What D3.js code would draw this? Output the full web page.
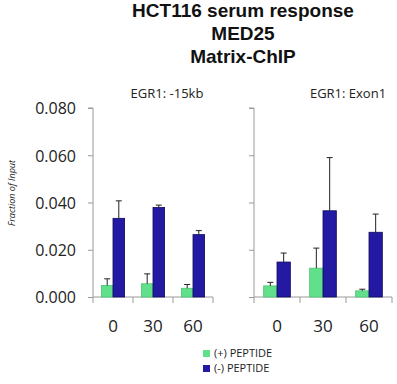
<!DOCTYPE html>
<head>
  <meta charset="utf-8">
  <script src="https://d3js.org/d3.v7.min.js"></script>
  <style>
    body { margin: 0; background: #fff; }
    svg { display: block; }
    .title { font-family: "Liberation Sans", Arial, sans-serif; font-weight: bold; font-size: 19px; fill: #111; }
    .lab { font-family: "Open Sans", sans-serif; fill: #222; }
  </style>
</head>
<body>
  <svg width="397" height="384"></svg>
  <script>
    var times = ['0', '30', '60'];
    var panels = ['EGR1: -15kb', 'EGR1: Exon1'];
    var series = ['(+) PEPTIDE', '(-) PEPTIDE'];
    var yTicks = [0, 0.02, 0.04, 0.06, 0.08];
    // values per panel, per time
    var plus15kb = [0.0049, 0.0056, 0.0037];
    var plus15kbErr = [0.0028, 0.0042, 0.0016];
    var minus15kb = [0.0333, 0.0379, 0.0264];
    var minus15kbErr = [0.0074, 0.0010, 0.0017];
    var plusExon = [0.0047, 0.0122, 0.0026];
    var plusExonErr = [0.0015, 0.0085, 0.0007];
    var minusExon = [0.0148, 0.0365, 0.0274];
    var minusExonErr = [0.0038, 0.0225, 0.0077];

    var colors = ['#62df8b', '#2319a2'];
    var strokes = ['#4cc474', '#0e0c5e'];

    var svg = d3.select('svg');

    ['HCT116 serum response', 'MED25', 'Matrix-ChIP'].forEach(function(t, i) {
      svg.append('text').attr('class', 'title')
        .attr('x', 243).attr('y', [17, 40, 63][i])
        .attr('text-anchor', 'middle').text(t);
    });

    var y = d3.scaleLinear().domain([0, 0.08]).range([297, 108]);

    var panelData = [
      {name: panels[0], x0: 93, x1: 213, vals: [plus15kb, minus15kb], errs: [plus15kbErr, minus15kbErr], labelX: 167, labels: true},
      {name: panels[1], x0: 254, x1: 392, vals: [plusExon, minusExon], errs: [plusExonErr, minusExonErr], labelX: 348, labels: false}
    ];

    panelData.forEach(function(p) {
      var x = d3.scaleBand().domain(times).range([p.x0, p.x1]);
      var g = svg.append('g');

      var yAxis = d3.axisLeft(y).tickValues(yTicks).tickSize(5)
        .tickFormat(p.labels ? d3.format('.3f') : '');
      var ya = g.append('g').attr('transform', 'translate(' + p.x0 + ',0)').call(yAxis);
      ya.selectAll('path, line').attr('stroke', '#9a9a9a');
      ya.select('.domain').attr('d', 'M-5,' + y(0.08) + 'H0V' + y(0));
      ya.selectAll('text').attr('class', 'lab').style('font-size', '16px')
        .attr('x', -17).attr('dy', '0.36em').attr('font-family', null);

      // x axis with ticks at band boundaries
      var xa = g.append('g');
      xa.append('line').attr('x1', p.x0).attr('x2', p.x1)
        .attr('y1', y(0)).attr('y2', y(0)).attr('stroke', '#9a9a9a');
      xa.selectAll('line.t').data(times.concat(['end'])).enter().append('line')
        .attr('class', 't')
        .attr('x1', function(d) { return d === 'end' ? p.x1 : x(d); })
        .attr('x2', function(d) { return d === 'end' ? p.x1 : x(d); })
        .attr('y1', y(0)).attr('y2', y(0) + 6).attr('stroke', '#9a9a9a');
      xa.selectAll('text').data(times).enter().append('text').attr('class', 'lab')
        .style('font-size', '17px').attr('text-anchor', 'middle')
        .attr('x', function(d) { return x(d) + x.bandwidth() / 2; })
        .attr('y', 332).text(function(d) { return d; });

      g.append('text').attr('class', 'lab').style('font-size', '13px')
        .attr('x', p.labelX).attr('y', 98).attr('text-anchor', 'middle').text(p.name);

      var bw = x.bandwidth() * 0.29;
      p.vals.forEach(function(vals, s) {
        var bars = g.append('g');
        bars.selectAll('rect').data(times).enter().append('rect')
          .attr('x', function(d) { return x(d) + x.bandwidth() / 2 + (s - 1) * bw; })
          .attr('y', function(d, i) { return y(vals[i]); })
          .attr('width', bw)
          .attr('height', function(d, i) { return y(0) - y(vals[i]); })
          .attr('fill', colors[s]).attr('stroke', strokes[s]).attr('stroke-width', 0.8);
        var err = p.errs[s];
        bars.selectAll('path').data(times).enter().append('path')
          .attr('d', function(d, i) {
            var cx = x(d) + x.bandwidth() / 2 + (s - 0.5) * bw;
            var top = y(vals[i] + err[i]);
            return 'M' + cx + ',' + y(vals[i]) + 'V' + top + 'M' + (cx - 3) + ',' + top + 'H' + (cx + 3);
          })
          .attr('stroke', '#222').attr('stroke-width', 1).attr('fill', 'none');
      });
    });

    svg.append('text').attr('class', 'lab')
      .attr('transform', 'translate(15,193)rotate(-90)')
      .attr('text-anchor', 'middle').style('font-size', '9px').style('font-style', 'italic')
      .text('Fraction of Input');

    var leg = svg.append('g');
    series.forEach(function(s, i) {
      leg.append('rect').attr('x', 203).attr('y', 350 + i * 15).attr('width', 7).attr('height', 7)
        .attr('fill', colors[i]);
      leg.append('text').attr('class', 'lab').style('font-size', '11px')
        .attr('x', 214).attr('y', 357 + i * 15).text(s);
    });
  </script>
</body>
